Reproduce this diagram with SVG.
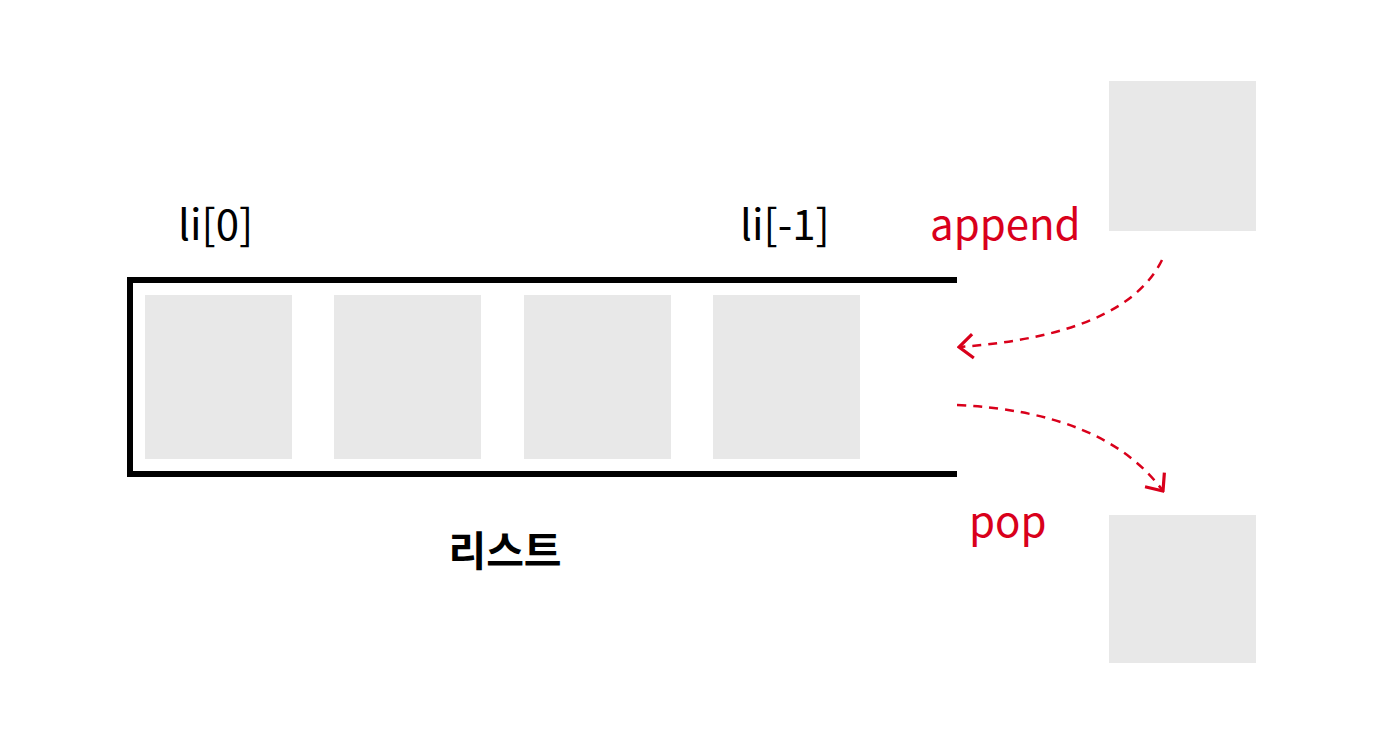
<svg xmlns="http://www.w3.org/2000/svg" width="1400" height="740" viewBox="0 0 1400 740">
<style>
.cell{fill:#e8e8e8}
.lbl{font-family:"Noto Sans CJK KR","Noto Sans",sans-serif;font-size:42px;font-weight:400;fill:#000}
.red{fill:#d9001b}
.title{font-size:41px;font-weight:bold}
.conn{fill:none;stroke:#d9001b;stroke-width:2.5;stroke-dasharray:9 7}
</style>
<defs>
<marker id="ah" viewBox="0 0 18 28" refX="16" refY="14" markerWidth="18" markerHeight="28" markerUnits="userSpaceOnUse" orient="auto">
<path d="M2,2 L16,14 L2,26" fill="none" stroke="#d9001b" stroke-width="3.2"/>
</marker>
</defs>
<rect width="1400" height="740" fill="#fff"/>
<g id="list">
<path d="M957,280 L130,280 L130,474 L957,474" fill="none" stroke="#000" stroke-width="6"/>
<text class="lbl title" x="505" y="566" text-anchor="middle">리스트</text>
</g>
<g id="cell0"><rect class="cell" x="145" y="295" width="147" height="164"/></g>
<g id="cell1"><rect class="cell" x="334" y="295" width="147" height="164"/></g>
<g id="cell2"><rect class="cell" x="524" y="295" width="147" height="164"/></g>
<g id="cell3"><rect class="cell" x="713" y="295" width="147" height="164"/></g>
<g id="label-first"><text class="lbl" x="178" y="240">li[0]</text></g>
<g id="label-last"><text class="lbl" x="740" y="240">li[-1]</text></g>
<g id="new-item"><rect class="cell" x="1109" y="81" width="147" height="150"/></g>
<g id="popped-item"><rect class="cell" x="1109" y="515" width="147" height="148"/></g>
<g id="label-append"><text class="lbl red" x="930" y="240">append</text></g>
<g id="label-pop"><text class="lbl red" x="969" y="537">pop</text></g>
<g id="connectors">
<path class="conn" d="M1162,260 Q1125,335 959,347" marker-end="url(#ah)"/>
<path class="conn" d="M957,405 Q1105,412 1163,491" marker-end="url(#ah)"/>
</g>
</svg>
